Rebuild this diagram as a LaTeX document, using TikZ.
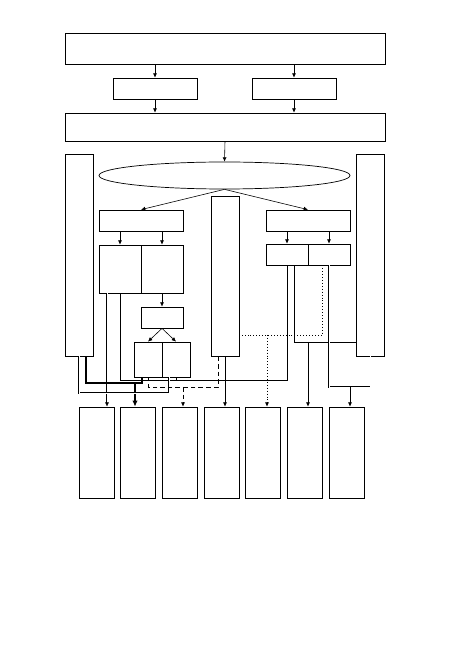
\documentclass[tikz,border=0pt]{standalone}
\usetikzlibrary{positioning,shapes.geometric,arrows.meta,calc}

\begin{document}
\begin{tikzpicture}[
    block/.style={rectangle,draw,line width=0.6pt,inner sep=0pt,minimum width=2.52cm,minimum height=0.63cm},
    wide/.style={block,minimum width=9.6cm},
    half/.style={block,minimum width=1.26cm},
    tall/.style={block,minimum width=0.84cm},
    outbox/.style={block,minimum width=1.05cm,minimum height=2.73cm},
    wire/.style={line width=0.5pt},
    bus/.style={line width=1.6pt},
    dbl/.style={double,double distance=0.8pt,line width=0.4pt},
    arrow/.style={-{Latex[length=1.3mm,width=1.2mm]}},
    busarrow/.style={-{Latex[length=1.8mm,width=1.6mm]}}
]
\useasboundingbox (0,0) rectangle (13.77,19.5);

% Inputs (top)
\node[wide,minimum height=0.93cm] (top-bar) at (6.75,18.045) {};
\node[block] (in-a) at (4.65,16.845) {};
\node[block] (in-b) at (8.82,16.845) {};
\node[wide,minimum height=0.84cm] (mid-bar) at (6.75,15.69) {};
\node[ellipse,draw,line width=0.6pt,inner sep=0pt,minimum width=7.53cm,minimum height=0.81cm] (hub) at (6.735,14.235) {};

\draw[wire,arrow] (top-bar.south -| in-a) -- (in-a.north);
\draw[wire,arrow] (top-bar.south -| in-b) -- (in-b.north);
\draw[wire,arrow] (in-a.south) -- (in-a.south |- mid-bar.north);
\draw[wire,arrow] (in-b.south) -- (in-b.south |- mid-bar.north);
\draw[wire,arrow] (mid-bar.south) -- (hub.north);

% Side columns
\node[tall,minimum height=6.06cm] (l-side) at (2.37,11.85) {};
\node[tall,minimum height=6.06cm] (r-side) at (11.115,11.85) {};
\node[tall,minimum height=4.8cm] (c-side) at (6.75,11.22) {};

% Left branch
\node[block] (l-mid) at (4.23,12.885) {};
\node[half,minimum height=1.44cm] (l-split1) at (3.6,11.43) {};
\node[half,minimum height=1.44cm] (l-split2) at (4.86,11.43) {};
\node[half,below=0.4cm of l-split2] (l-small) {};
\node[tall,minimum height=1.05cm] (l-bot1) at (4.44,8.715) {};
\node[tall,minimum height=1.05cm] (l-bot2) at (5.28,8.715) {};

\draw[wire,arrow] (hub.south) -- (l-mid.north);
\draw[wire,arrow] (l-mid.south -| l-split1) -- (l-split1.north);
\draw[wire,arrow] (l-mid.south -| l-split2) -- (l-split2.north);
\draw[wire,arrow] (l-split2.south) -- (l-small.north);
\draw[wire,arrow] (l-small.south) -- (l-bot1.north);
\draw[wire,arrow] (l-small.south) -- (l-bot2.north);

% Right branch
\node[block] (r-mid) at (9.24,12.885) {};
\node[half] (r-split1) at (8.61,11.865) {};
\node[half] (r-split2) at (9.87,11.865) {};

\draw[wire,arrow] (hub.south) -- (r-mid.north);
\draw[wire,arrow] (r-mid.south -| r-split1) -- (r-split1.north);
\draw[wire,arrow] (r-mid.south -| r-split2) -- (r-split2.north);

% Outputs (bottom)
\node[outbox] (out1) at (2.895,5.925) {};
\foreach \i [remember=\i as \last (initially 1)] in {2,...,7}
    \node[outbox,right=0.18cm of out\last] (out\i) {};

% Routing levels
\coordinate (y1) at (0,8.1);
\coordinate (y2) at (0,8.01);
\coordinate (y3) at (0,7.89);
\coordinate (y4) at (0,7.71);
\coordinate (y5) at (0,9.45);
\coordinate (y6) at (0,9.24);

% Left connections
\draw[wire] (l-split1.south) |- (y1 -| r-split1) -- (r-split1.south);
\draw[wire] (l-bot2.south) -- (l-bot2.south |- y1);

\coordinate (la) at ($(l-split1.south)+(-0.39,0)$);
\draw[dbl,arrow] (la) -- (la |- out1.north);

\coordinate (lb) at ($(l-side.south)+(0.21,0)$);
\coordinate (lc) at ($(l-bot1.south)+(-0.18,0)$);
\draw[bus] (lb) |- (lc |- y2) -- (lc);
\coordinate (j2) at (4.05,8.01);
\draw[bus,busarrow] (j2) -- (j2 |- out2.north);

\coordinate (le) at ($(l-bot2.south)+(-0.21,0)$);
\draw[dbl] (l-side.south) |- (le |- y4) -- (le);

% Center connections
\coordinate (ca) at ($(c-side.south)+(-0.21,0)$);
\draw[wire,dash pattern=on 4pt off 2.5pt] (ca) |- (l-bot1.south |- y3) -- (l-bot1.south);
\coordinate (j3) at (5.49,7.89);
\draw[wire,dash pattern=on 4pt off 2.5pt,arrow] (j3) -- (j3 |- out3.north);
\draw[wire,arrow] (c-side.south) -- (c-side.south |- out4.north);

% Right connections
\coordinate (ra) at ($(r-split2.south)+(-0.21,0)$);
\draw[wire,dotted] (ra) |- (c-side.east |- y5);
\coordinate (j5) at (8.01,9.45);
\draw[wire,dotted,arrow] (j5) -- (j5 |- out5.north);

\coordinate (rb) at ($(r-split1.south)+(0.21,0)$);
\draw[wire] (r-side.west |- y6) -| (rb);
\coordinate (j6) at (9.24,9.24);
\draw[wire,arrow] (j6) -- (j6 |- out6.north);

\draw[dbl] (r-split2.south) |- (r-side.south |- y3) -- (r-side.south);
\coordinate (j7) at (10.5,7.89);
\draw[wire,arrow] (j7) -- (j7 |- out7.north);

\end{tikzpicture}
\end{document}
